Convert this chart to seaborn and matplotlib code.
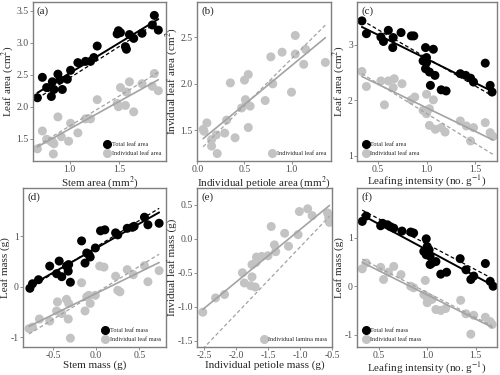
import numpy as np
import pandas as pd
import matplotlib
matplotlib.use("Agg")
import matplotlib.pyplot as plt
import seaborn as sns
from matplotlib.lines import Line2D

# ---------------- data ----------------
# (a) stem area vs leaf area
a_x_tot = [0.677, 0.727, 0.77, 0.817, 0.827, 0.843, 0.883, 0.903, 0.927, 0.977, 1.01, 1.083,
           1.16, 1.21, 1.243, 1.277, 1.477, 1.49, 1.51, 1.56, 1.57, 1.6, 1.643, 1.727, 1.83, 1.85, 1.89]
a_y_tot = [2.14, 2.46, 2.30, 2.16, 2.39, 2.27, 2.51, 2.42, 2.27, 2.43, 2.57, 2.69,
           2.71, 2.71, 2.77, 2.95, 3.14, 3.19, 3.16, 2.94, 2.90, 3.13, 3.07, 3.15, 3.28, 3.43, 3.20]
a_x_ind = [0.677, 0.727, 0.77, 0.817, 0.827, 0.843, 0.837, 0.883, 0.917, 0.99, 1.01, 1.083,
           1.16, 1.21, 1.277, 1.477, 1.49, 1.51, 1.56, 1.57, 1.6, 1.643, 1.727, 1.83, 1.85, 1.89]
a_y_ind = [1.34, 1.62, 1.49, 1.45, 1.46, 1.42, 1.26, 1.84, 1.53, 1.46, 1.74, 1.59,
           1.81, 1.81, 2.11, 2.05, 2.00, 2.30, 2.02, 2.23, 2.39, 1.92, 2.36, 2.32, 2.52, 2.25]

# (b) petiole area vs individual leaf area
b_x = [0.07, 0.06, 0.10, 0.15, 0.20, 0.21, 0.15, 0.29, 0.31, 0.35, 0.40, 0.47, 0.50, 0.51,
       0.52, 0.54, 0.54, 0.56, 0.72, 0.78, 0.80, 0.90, 1.00, 1.04, 1.04, 1.13, 1.15, 1.36]
b_y = [1.49, 1.51, 1.58, 1.40, 1.45, 1.25, 1.33, 1.47, 1.61, 2.01, 1.42, 1.74, 2.04, 1.83,
       1.79, 2.10, 1.53, 1.76, 1.82, 2.29, 2.00, 2.34, 1.91, 2.52, 2.32, 2.21, 2.37, 2.23]

# (c) leafing intensity vs leaf area
c_x_tot = [0.34, 0.386, 0.534, 0.56, 0.61, 0.655, 0.66, 0.74, 0.845, 0.87, 0.99, 0.965, 1.0,
           1.0, 0.99, 1.03, 1.04, 1.07, 1.086, 1.15, 1.2, 1.345, 1.40, 1.45, 1.48, 1.6, 1.65, 1.67]
c_y_tot = [3.43, 3.20, 3.14, 3.06, 3.26, 2.95, 3.13, 3.22, 3.16, 3.16, 2.95, 2.71, 2.68,
           2.77, 2.57, 2.51, 2.27, 2.92, 2.45, 2.19, 2.17, 2.48, 2.45, 2.40, 2.33, 2.67, 2.27, 2.15]
c_x_ind = [0.34, 0.386, 0.534, 0.57, 0.61, 0.66, 0.67, 0.75, 0.845, 0.88, 1.0, 1.07, 0.965,
           1.0, 1.03, 1.03, 1.09, 1.15, 1.19, 1.345, 1.407, 1.45, 1.48, 1.6, 1.65, 1.68]
c_y_ind = [2.52, 2.25, 2.35, 1.92, 2.35, 2.23, 2.39, 2.30, 2.01, 2.06, 2.11, 2.01, 1.82,
           1.76, 1.85, 1.55, 1.48, 1.51, 1.43, 1.63, 1.54, 1.27, 1.51, 1.60, 1.42, 1.35]

# (d) stem mass vs leaf mass
d_x = [-0.77, -0.74, -0.67, -0.54, -0.43, -0.46, -0.40, -0.345, -0.32, -0.325, -0.30, -0.17,
       -0.13, -0.11, -0.085, -0.07, -0.01, 0.05, 0.10, 0.225, 0.25, 0.36, 0.42, 0.44, 0.56, 0.60, 0.73]
d_y_tot = [-0.03, 0.06, 0.14, 0.41, 0.51, 0.26, 0.20, 0.41, 0.44, 0.31, 0.09, 0.91,
           0.47, 0.67, 0.64, 0.59, 0.77, 1.11, 1.13, 1.07, 1.03, 1.16, 1.18, 1.20, 1.38, 1.23, 1.26]
d_x_ind = [-0.78, -0.74, -0.66, -0.54, -0.45, -0.46, -0.40, -0.345, -0.325, -0.32, -0.30, -0.17,
           -0.13, -0.11, -0.085, -0.07, -0.01, 0.04, 0.09, 0.225, 0.25, 0.275, 0.36, 0.43, 0.56, 0.60, 0.73]
d_y_ind = [-0.83, -0.80, -0.64, -0.68, -0.30, -0.48, -0.53, -0.25, -0.64, -0.33, -1.02, 0.08,
           -0.48, -0.20, -0.17, -0.33, -0.17, 0.41, 0.39, 0.21, -0.07, -0.10, 0.34, 0.24, 0.42, 0.10, 0.32]

# (e) petiole mass vs individual leaf mass
e_x = [-2.52, -2.32, -2.18, -1.90, -1.87, -1.77, -1.75, -1.75, -1.70, -1.68, -1.69, -1.60, -1.50,
       -1.45, -1.40, -1.38, -1.24, -1.18, -1.03, -1.01, -0.88, -0.81, -0.57, -0.55, -0.54]
e_y = [-1.08, -0.87, -0.82, -0.50, -0.65, -0.69, -0.56, -0.38, -0.71, -0.27, -0.35, -0.26, -0.25,
       0.18, -0.09, -0.19, 0.08, -0.11, 0.06, 0.40, 0.44, 0.34, 0.38, 0.31, 0.24]

# (f) leafing intensity vs leaf mass
f_x_tot = [0.33, 0.37, 0.52, 0.54, 0.59, 0.62, 0.655, 0.74, 0.83, 0.86, 0.99, 0.965, 1.0, 1.02,
           0.99, 1.03, 1.03, 1.05, 1.09, 1.14, 1.2, 1.34, 1.40, 1.45, 1.48, 1.6, 1.65, 1.68]
f_y_tot = [1.34, 1.45, 1.25, 1.30, 1.27, 1.23, 1.20, 1.14, 1.12, 1.10, 0.98, 0.72, 0.82, 0.75,
           0.65, 0.62, 0.45, 0.48, 0.51, 0.25, 0.29, 0.57, 0.34, 0.14, 0.21, 0.47, 0.10, 0.00]
f_x_ind = [0.33, 0.37, 0.52, 0.55, 0.60, 0.655, 0.73, 0.83, 0.86, 0.98, 0.965, 0.99, 1.03,
           1.0, 1.05, 1.09, 1.14, 1.19, 1.345, 1.40, 1.45, 1.48, 1.60, 1.65, 1.67]
f_y_ind = [0.36, 0.48, 0.39, 0.14, 0.29, 0.41, 0.24, 0.0, -0.03, 0.12, -0.17, -0.21, -0.27,
           -0.34, -0.27, -0.48, -0.50, -0.46, -0.29, -0.57, -0.99, -0.60, -0.64, -0.73, -0.79]

# dashed reference lines (slope, intercept)
dash_a = {"tot": (0.99, 1.46), "ind": (0.946, 0.751)}
dash_b = {"ind": (1.007, 1.262)}
dash_c = {"tot": (-1.02, 3.787), "ind": (-1.084, 2.849)}
dash_d = {"tot": (1.05, 0.79), "ind": (1.049, -0.119)}
dash_e = {"ind": (0.985, 0.862)}
dash_f = {"tot": (-1.053, 1.92), "ind": (-1.03, 0.90)}

# ---------------- style ----------------
sns.set_style("white")
plt.rcParams["font.family"] = ["Liberation Serif", "DejaVu Serif"]
plt.rcParams["mathtext.fontset"] = "stix"
plt.rcParams["axes.unicode_minus"] = False

BLACK = "#000000"
GRAY = "#c3c3c3"
GRAYLINE = "#a3a3a3"
FRAME = "#7f7f7f"
TICKC = "#4d4d4d"

fig = plt.figure(figsize=(5, 3.75), dpi=100)

rects = {
    "a": [0.066, 0.5707, 0.266, 0.424],
    "b": [0.394, 0.5707, 0.268, 0.424],
    "c": [0.714, 0.5707, 0.280, 0.424],
    "d": [0.046, 0.074, 0.286, 0.4247],
    "e": [0.394, 0.074, 0.270, 0.4247],
    "f": [0.714, 0.074, 0.280, 0.4247],
}


def panel(key, series, dashes, xlim, ylim, xticks, yticks, xfmt, yfmt,
          xlabel, ylabel, legloc):
    ax = fig.add_axes(rects[key])
    handles = []
    for name, x, y, color, lcolor, label in series:
        df = pd.DataFrame({"x": x, "y": y})
        sns.scatterplot(data=df, x="x", y="y", ax=ax, color=color, s=42,
                        edgecolor="none", linewidth=0, zorder=2)
        sns.regplot(data=df, x="x", y="y", ax=ax, scatter=False, ci=None,
                    color=lcolor, line_kws={"lw": 1.4 if color == BLACK else 1.2,
                                            "zorder": 3})
        m, b = dashes[name]
        xs = np.array([min(x), max(x)])
        ax.plot(xs, m * xs + b, ls=(0, (3, 2)), color=lcolor,
                lw=0.9, zorder=3)
        handles.append(Line2D([], [], marker="o", ls="none", color=color,
                              markersize=5.5, label=label))
    ax.set_xlim(*xlim)
    ax.set_ylim(*ylim)
    ax.set_xticks(xticks)
    ax.set_yticks(yticks)
    ax.set_xticklabels([xfmt.format(v) for v in xticks])
    ax.set_yticklabels([yfmt.format(v) for v in yticks])
    ax.tick_params(axis="both", length=2, width=0.6, color=FRAME,
                   labelcolor=TICKC, labelsize=7, pad=1, direction="out")
    ax.xaxis.set_ticks_position("bottom")
    ax.yaxis.set_ticks_position("left")
    for sp in ax.spines.values():
        sp.set_color(FRAME)
        sp.set_linewidth(1.0)
    ax.set_xlabel(xlabel, fontsize=8, labelpad=0)
    ax.set_ylabel(ylabel, fontsize=8, labelpad=0.5)
    ax.text(0.03, 0.975, f"({key})", transform=ax.transAxes, va="top",
            ha="left", fontsize=8)
    ax.legend(handles=handles, loc=legloc, frameon=False, fontsize=4.5,
              handletextpad=0.1, borderaxespad=0.4, labelspacing=0.6,
              handlelength=1.2)
    return ax


panel("a",
      [("tot", a_x_tot, a_y_tot, BLACK, BLACK, "Total leaf area"),
       ("ind", a_x_ind, a_y_ind, GRAY, GRAYLINE, "Individual leaf area")],
      dash_a, (0.633, 1.967), (1.15, 3.64), [1.0, 1.5], [1.5, 2.0, 2.5, 3.0, 3.5],
      "{:.1f}", "{:.1f}", "Stem area (mm$^2$)", "Leaf area (cm$^2$)", "lower right")

panel("b",
      [("ind", b_x, b_y, GRAY, GRAYLINE, "Individual leaf area")],
      dash_b, (-0.005, 1.42), (1.17, 2.88), [0.0, 0.5, 1.0], [1.5, 2.0, 2.5],
      "{:.1f}", "{:.1f}", "Individual petiole area (mm$^2$)",
      "Invidual leaf area (cm$^2$)", "lower right")

panel("c",
      [("tot", c_x_tot, c_y_tot, BLACK, BLACK, "Total leaf area"),
       ("ind", c_x_ind, c_y_ind, GRAY, GRAYLINE, "Individual leaf area")],
      dash_c, (0.29, 1.72), (0.91, 3.77), [0.5, 1.0, 1.5], [1, 2, 3],
      "{:.1f}", "{:.0f}", "Leafing intensity (no. g$^{-1}$)",
      "Leaf area (cm$^2$)", "lower left")

panel("d",
      [("tot", d_x, d_y_tot, BLACK, BLACK, "Total leaf mass"),
       ("ind", d_x_ind, d_y_ind, GRAY, GRAYLINE, "Individual leaf mass")],
      dash_d, (-0.85, 0.81), (-1.20, 1.96), [-0.5, 0.0, 0.5], [-1, 0, 1],
      "{:.1f}", "{:.0f}", "Stem mass (g)", "Leaf mass (g)", "lower right")

panel("e",
      [("ind", e_x, e_y, GRAY, GRAYLINE, "Individual lamina mass")],
      dash_e, (-2.61, -0.52), (-1.595, 0.746), [-2.5, -2.0, -1.5, -1.0, -0.5],
      [-1.5, -1.0, -0.5, 0.0, 0.5], "{:.1f}", "{:.1f}",
      "Individual petiole mass (g)", "Invidual leaf mass (g)", "lower right")

panel("f",
      [("tot", f_x_tot, f_y_tot, BLACK, BLACK, "Total leaf mass"),
       ("ind", f_x_ind, f_y_ind, GRAY, GRAYLINE, "Individual leaf mass")],
      dash_f, (0.276, 1.72), (-1.26, 2.03), [0.5, 1.0, 1.5], [-1, 0, 1],
      "{:.1f}", "{:.0f}", "Leafing intensity (no. g$^{-1}$)",
      "Leaf mass (g)", "lower left")

fig.savefig("out.png", dpi=100)
